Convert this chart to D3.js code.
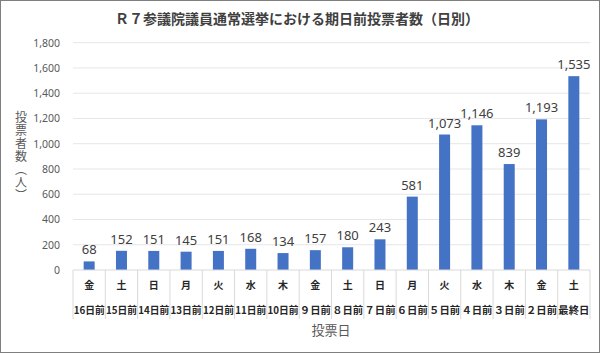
<!DOCTYPE html>
<meta charset="utf-8">
<style>
  body { margin: 0; background: white; font-family: "Noto Sans CJK JP", "Noto Sans", sans-serif; }
  .tick text { fill: #595959; font-size: 10.5px; font-family: "Noto Sans", sans-serif; }
</style>
<body>
<div id="chart"></div>
<script src="https://cdn.jsdelivr.net/npm/d3@7"></script>
<script>
  // data
  var weekdays = ["金", "土", "日", "月", "火", "水", "木", "金", "土", "日", "月", "火", "水", "木", "金", "土"];
  var days = ["16日前", "15日前", "14日前", "13日前", "12日前", "11日前", "10日前", "９日前",
    "８日前", "７日前", "６日前", "５日前", "４日前", "３日前", "２日前", "最終日"];
  var voters = [68, 152, 151, 145, 151, 168, 134, 157, 180, 243, 581, 1073, 1146, 839, 1193, 1535];
  var yTicks = [0, 200, 400, 600, 800, 1000, 1200, 1400, 1600, 1800];

  var W = 600, H = 353;
  var margin = { top: 42.7, right: 10, bottom: 83, left: 73 };

  var svg = d3.select("#chart").append("svg")
    .attr("width", W).attr("height", H);

  svg.append("rect")
    .attr("x", 0.5).attr("y", 0.5)
    .attr("width", W - 1).attr("height", H - 1)
    .attr("fill", "white").attr("stroke", "#7f7f7f");

  var x = d3.scaleBand().domain(d3.range(voters.length))
    .range([margin.left, W - margin.right]).paddingInner(0).paddingOuter(0);
  var y = d3.scaleLinear().domain([0, 1800])
    .range([H - margin.bottom, margin.top]);

  // gridlines
  svg.append("g")
    .selectAll("line").data(yTicks.slice(1)).enter().append("line")
    .attr("x1", margin.left).attr("x2", W - margin.right)
    .attr("y1", d => y(d)).attr("y2", d => y(d))
    .attr("stroke", "#e6e6e6").attr("stroke-width", 1);

  // y axis
  var yAxis = svg.append("g")
    .attr("transform", "translate(" + (margin.left - 13) + ",0)")
    .call(d3.axisLeft(y).tickValues(yTicks).tickSize(0).tickPadding(0).tickFormat(d3.format(",")));
  yAxis.select(".domain").remove();

  // bars
  svg.append("g").selectAll("rect").data(voters).enter().append("rect")
    .attr("x", (d, i) => x(i) + x.bandwidth() / 2 - 5.5)
    .attr("width", 11)
    .attr("y", d => y(d))
    .attr("height", d => y(0) - y(d))
    .attr("fill", "#4472c4");

  // value labels
  svg.append("g").selectAll("text").data(voters).enter().append("text")
    .attr("x", (d, i) => x(i) + x.bandwidth() / 2)
    .attr("y", d => y(d) - 7)
    .attr("text-anchor", "middle")
    .attr("fill", "#404040")
    .attr("font-size", "13px")
    .attr("font-family", "'Noto Sans', sans-serif")
    .text(d => d3.format(",")(d));

  // category table under the axis
  var base = y(0);
  svg.append("line")
    .attr("x1", margin.left).attr("x2", W - margin.right)
    .attr("y1", base).attr("y2", base)
    .attr("stroke", "#d9d9d9");

  var cat = svg.append("g");
  cat.selectAll("line").data(d3.range(voters.length + 1)).enter().append("line")
    .attr("x1", i => i < voters.length ? x(i) : x.range()[1])
    .attr("x2", i => i < voters.length ? x(i) : x.range()[1])
    .attr("y1", base).attr("y2", base + 49)
    .attr("stroke", "#d9d9d9");

  cat.selectAll(".wd").data(weekdays).enter().append("text")
    .attr("class", "wd")
    .attr("x", (d, i) => x(i) + x.bandwidth() / 2)
    .attr("y", base + 19)
    .attr("text-anchor", "middle")
    .attr("font-size", "10px").attr("font-weight", "bold")
    .attr("fill", "#262626")
    .text(d => d);

  cat.selectAll(".dy").data(days).enter().append("text")
    .attr("class", "dy")
    .attr("x", (d, i) => x(i) + x.bandwidth() / 2)
    .attr("y", base + 44)
    .attr("text-anchor", "middle")
    .attr("font-size", "10px").attr("font-weight", "bold")
    .attr("fill", "#262626")
    .attr("textLength", 31)
    .attr("lengthAdjust", "spacingAndGlyphs")
    .text(d => d);

  // titles
  svg.append("text")
    .attr("x", 297).attr("y", 24)
    .attr("text-anchor", "middle")
    .attr("font-size", "14px")
    .attr("font-weight", "bold")
    .attr("fill", "#404040")
    .text("Ｒ７参議院議員通常選挙における期日前投票者数（日別）");

  svg.append("text")
    .attr("x", 331).attr("y", 335)
    .attr("text-anchor", "middle")
    .attr("font-size", "13px")
    .attr("fill", "#595959")
    .text("投票日");

  svg.append("text")
    .attr("transform", "translate(21,111)")
    .style("writing-mode", "vertical-rl")
    .attr("font-size", "12px")
    .attr("letter-spacing", "1px")
    .attr("fill", "#595959")
    .text("投票者数（人）");
</script>
</body>
